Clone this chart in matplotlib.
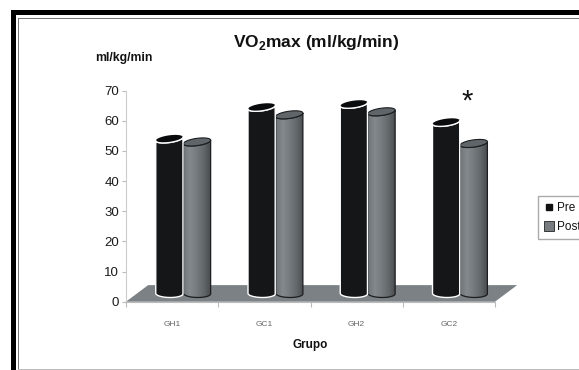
import numpy as np
import matplotlib
matplotlib.use("Agg")
import matplotlib.pyplot as plt
from matplotlib.colors import LinearSegmentedColormap
from matplotlib.lines import Line2D
from matplotlib.patches import Polygon, Rectangle, PathPatch
from matplotlib.path import Path

plt.rcParams["font.family"] = ["Liberation Sans", "DejaVu Sans"]
plt.rcParams["mathtext.fontset"] = "custom"
plt.rcParams["mathtext.bf"] = "Liberation Sans:bold"
plt.rcParams["mathtext.rm"] = "Liberation Sans"

grupos = ["GH1", "GC1", "GH2", "GC2"]
pre = [52.5, 63, 64, 58]
post = [51.5, 60.5, 61.5, 51]
yticks = [0, 10, 20, 30, 40, 50, 60, 70]

W, H = 579, 370
fig = plt.figure(figsize=(W / 100, H / 100), dpi=100, facecolor="white")
ax = fig.add_axes([126 / W, (H - 301.7) / H, 369 / W, 211 / H])
ax.patch.set_alpha(0)

# frame round the picture, in figure pixels
def frame(x, y, w, h, color):
    fig.add_artist(Rectangle((x / W, 1 - (y + h) / H), w / W, h / H, color=color,
                             lw=0, transform=fig.transFigure))

frame(11, 10, 568, 4.5, "#000000")
frame(11, 10, 5, 360, "#000000")
frame(18, 18, 561, 1.2, "#777777")
frame(18, 18, 1.2, 352, "#777777")
frame(18, 368.6, 561, 1.4, "#bbbbbb")

# floor of the 3D chart
floor_h = 5.5
ax.add_patch(Polygon([(0, 0), (4, 0), (4.24, floor_h), (0.24, floor_h)],
                     facecolor="#7b8184", edgecolor="none", zorder=1, clip_on=False))

width = 0.295
base = 2.7
lift = 1.5
ell_h = 2.4
skew = 4.0

gray_map = LinearSegmentedColormap.from_list(
    "post", ["#6f7579", "#83898c", "#747a7d", "#62676a", "#484c4f"])


def ellipse_xy(xc, yc, t):
    x = xc + width / 2 * np.cos(t)
    y = yc + ell_h / 2 * np.sin(t) + skew * (x - xc)
    return x, y


def draw_bar(xc, value, kind, z):
    top = value + lift
    t_low = np.linspace(np.pi, 2 * np.pi, 40)
    xb, yb = ellipse_xy(xc, base, t_low)
    xb = xb.copy()
    yb = base - 1.3 * np.sin(t_low - np.pi) - 0.6 * (xb - xc)
    xt, yt = ellipse_xy(xc, top, t_low[::-1])
    body = np.column_stack([np.r_[xb, xt], np.r_[yb, yt]])
    t = np.linspace(0, 2 * np.pi, 80)
    cap = np.column_stack(ellipse_xy(xc, top, t))
    if kind == "pre":
        ax.add_patch(Polygon(body, closed=True, facecolor="#141618", edgecolor="white",
                             lw=1.0, zorder=z, clip_on=False))
        ax.add_patch(Polygon(cap, closed=True, facecolor="#0a0b0c", edgecolor="none",
                             zorder=z + 0.1, clip_on=False))
        xl, yl = ellipse_xy(xc, top, t_low)
        ax.plot(xl, yl, color="white", lw=1.0, zorder=z + 0.2)
    else:
        clip = PathPatch(Path(body), facecolor="none", edgecolor="none", zorder=z)
        ax.add_patch(clip)
        im = ax.imshow(np.linspace(0, 1, 64).reshape(1, -1), cmap=gray_map, aspect="auto",
                       extent=[xc - width / 2, xc + width / 2, 0, 70], zorder=z)
        im.set_clip_path(clip)
        ax.add_patch(Polygon(body, closed=True, facecolor="none", edgecolor="#1c1e20",
                             lw=0.9, zorder=z + 0.1))
        ax.add_patch(Polygon(cap, closed=True, facecolor="#5f6568", edgecolor="#1c1e20",
                             lw=0.8, zorder=z + 0.2))


for i in range(len(grupos)):
    draw_bar(i + 0.77, post[i], "post", 3)
    draw_bar(i + 0.47, pre[i], "pre", 5)

ax.set_xlim(0, 4)
ax.set_ylim(0, 70)
ax.set_xticks(range(5))
ax.set_xticklabels([])
ax.set_xticks([i + 0.5 for i in range(4)], grupos, minor=True)
ax.tick_params(axis="x", which="major", length=3.5, width=0.8, color="#bbbbbb")
ax.tick_params(axis="x", which="minor", length=0, labelsize=6, labelcolor="#666666", pad=14)
ax.set_yticks(yticks)
ax.tick_params(axis="y", length=3, width=0.8, color="#bbbbbb", labelsize=9.5,
               labelcolor="#1a1a1a", pad=2)
for s in ["top", "right"]:
    ax.spines[s].set_visible(False)
ax.spines["left"].set_color("#cccccc")
ax.spines["bottom"].set_color("#bbbbbb")

fig.text(316 / W, 1 - 42 / H, r"VO$_{\mathbf{2}}$max (ml/kg/min)", ha="center", va="center",
         fontsize=12.5, fontweight="bold", color="#111111")
fig.text(124 / W, 1 - 57.5 / H, "ml/kg/min", ha="center", va="center", fontsize=8.8,
         fontweight="bold", color="#111111")
fig.text(310 / W, 1 - 345 / H, "Grupo", ha="center", va="center", fontsize=8.5,
         fontweight="bold", color="#111111")
fig.text(467 / W, 1 - 102 / H, "*", ha="center", va="center", fontsize=21, color="#111111")

handles = [
    Line2D([], [], linestyle="none", marker="s", markersize=4.5, color="#111111", label="Pre"),
    Line2D([], [], linestyle="none", marker="s", markersize=7, markerfacecolor="#777c80",
           markeredgecolor="#222222", markeredgewidth=0.6, label="Post"),
]
fig.legend(handles=handles, loc="upper left", bbox_to_anchor=(538 / W, 1 - 196 / H),
           bbox_transform=fig.transFigure, fontsize=8.5, frameon=True, fancybox=False,
           edgecolor="#aaaaaa", framealpha=1, borderaxespad=0, handlelength=0.8,
           handletextpad=0.25, borderpad=0.55, labelspacing=0.55, labelcolor="#111111")

fig.savefig("out.png", dpi=100)
